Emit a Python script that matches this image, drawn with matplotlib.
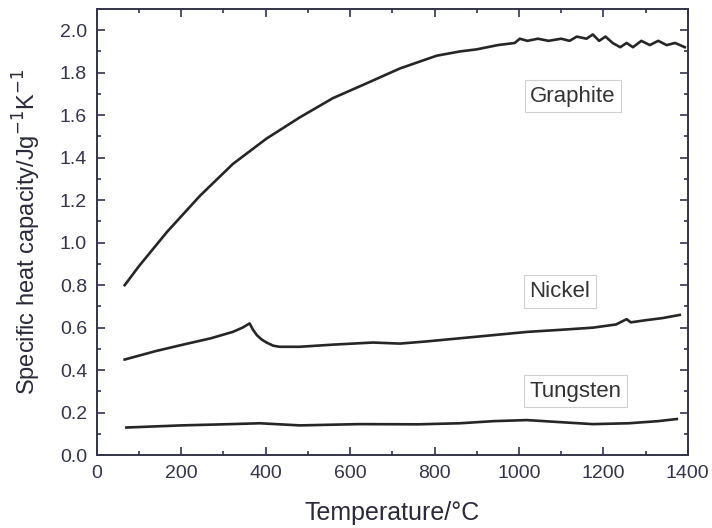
import matplotlib
matplotlib.use("Agg")
import matplotlib.pyplot as plt
from matplotlib.ticker import MultipleLocator

# valores (temperatura en C, cp en J/gK)
t_graphite = [66, 100, 166, 244, 322, 402, 481, 559, 639, 718, 805, 860, 900, 950,
              990, 1002, 1020, 1045, 1070, 1100, 1120, 1137, 1160, 1175, 1190, 1205,
              1222, 1240, 1255, 1270, 1290, 1310, 1330, 1350, 1370, 1393]
cp_graphite = [0.80, 0.89, 1.05, 1.22, 1.37, 1.49, 1.59, 1.68, 1.75, 1.82, 1.88, 1.90,
               1.91, 1.93, 1.94, 1.96, 1.95, 1.96, 1.95, 1.96, 1.95, 1.97, 1.96, 1.98,
               1.95, 1.97, 1.94, 1.92, 1.94, 1.92, 1.95, 1.93, 1.95, 1.93, 1.94, 1.92]

t_nickel = [66, 140, 204, 270, 322, 345, 362, 370, 379, 390, 402, 418, 433, 480,
            559, 654, 718, 780, 860, 940, 1019, 1100, 1175, 1230, 1255, 1265, 1300,
            1340, 1381]
cp_nickel = [0.45, 0.49, 0.52, 0.55, 0.58, 0.60, 0.62, 0.59, 0.565, 0.545, 0.53,
             0.515, 0.51, 0.51, 0.52, 0.53, 0.525, 0.535, 0.55, 0.565, 0.58, 0.59,
             0.60, 0.615, 0.64, 0.625, 0.635, 0.645, 0.66]

t_tungsten = [70, 200, 300, 386, 481, 623, 760, 860, 940, 1019, 1100, 1175, 1260, 1330, 1374]
cp_tungsten = [0.13, 0.14, 0.145, 0.15, 0.14, 0.146, 0.145, 0.15, 0.16, 0.165, 0.155,
               0.146, 0.15, 0.16, 0.17]

labels = ["Graphite", "Nickel", "Tungsten"]
label_x = [1128, 1097, 1133]
label_y = [1.69, 0.77, 0.30]

plt.rcParams['font.family'] = ['Liberation Sans', 'DejaVu Sans']
axcol = '#34344a'

fig = plt.figure(figsize=(7.12, 5.28), dpi=100)
ax = fig.add_axes([0.136, 0.138, 0.830, 0.845])

for t, cp in [(t_graphite, cp_graphite), (t_nickel, cp_nickel), (t_tungsten, cp_tungsten)]:
    ax.plot(t, cp, color='#262626', lw=1.9)

for txt, x, y in zip(labels, label_x, label_y):
    ax.text(x, y, txt, fontsize=16, color='#333333', ha='center', va='center',
            bbox=dict(boxstyle='square,pad=0.25', fc='white', ec='#d0d0d0', lw=0.8))

ax.set_xlim(0, 1400)
ax.set_ylim(0, 2.1)
ax.xaxis.set_major_locator(MultipleLocator(200))
ax.xaxis.set_minor_locator(MultipleLocator(100))
ax.yaxis.set_major_locator(MultipleLocator(0.2))
ax.yaxis.set_minor_locator(MultipleLocator(0.1))
ax.yaxis.set_major_formatter(matplotlib.ticker.FormatStrFormatter('%.1f'))

ax.tick_params(which='both', direction='in', top=True, right=True, colors=axcol,
               labelsize=14, width=1.2)
ax.tick_params(which='major', length=6, pad=7)
ax.tick_params(which='minor', length=3)
for s in ax.spines.values():
    s.set_color(axcol)
    s.set_linewidth(1.4)

ax.set_xlabel("Temperature/°C", fontsize=18, color='#2a2a3a', labelpad=14)
ax.set_ylabel("Specific heat capacity/Jg$^{-1}$K$^{-1}$", fontsize=17, color='#2a2a3a', labelpad=12)

fig.savefig("out.png", dpi=100)
